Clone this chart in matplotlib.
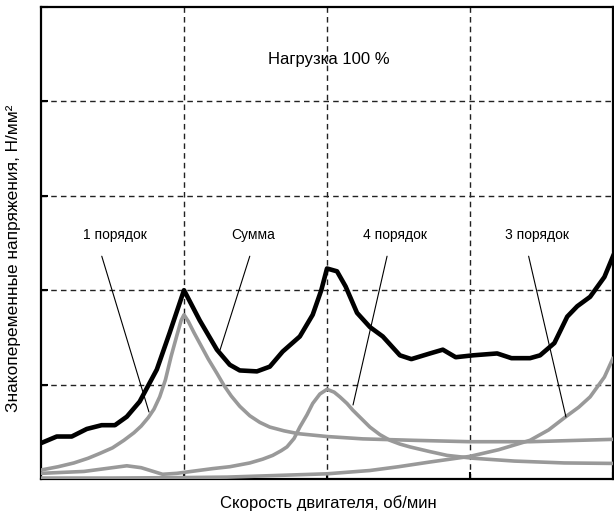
import matplotlib
matplotlib.use("Agg")
import matplotlib.pyplot as plt

plt.rcParams['font.family'] = ['Liberation Sans Narrow', 'Liberation Sans', 'DejaVu Sans']

# ---- data ----
sum_x = [0.0, 0.11, 0.215, 0.32, 0.424, 0.517, 0.6, 0.69, 0.81, 0.9, 1.0, 1.11, 1.23, 1.32,
         1.39, 1.51, 1.6, 1.69, 1.81, 1.9, 1.96, 2.0, 2.07, 2.13, 2.21, 2.3, 2.39, 2.51, 2.59,
         2.72, 2.81, 2.9, 3.02, 3.19, 3.29, 3.42, 3.49, 3.59, 3.68, 3.75, 3.84, 3.94, 4.0]
sum_y = [0.38, 0.45, 0.45, 0.53, 0.57, 0.57, 0.66, 0.82, 1.16, 1.55, 2.0, 1.68, 1.37, 1.21,
         1.15, 1.14, 1.19, 1.35, 1.51, 1.74, 2.0, 2.23, 2.2, 2.04, 1.76, 1.61, 1.51, 1.31, 1.27,
         1.33, 1.37, 1.29, 1.31, 1.33, 1.28, 1.28, 1.31, 1.44, 1.72, 1.83, 1.93, 2.14, 2.36]

o1_x = [0.0, 0.12, 0.23, 0.33, 0.41, 0.5, 0.58, 0.65, 0.7, 0.75, 0.79, 0.83, 0.87, 0.91, 0.95,
        0.98, 1.0, 1.03, 1.07, 1.12, 1.17, 1.23, 1.28, 1.33, 1.39, 1.46, 1.53, 1.6, 1.7, 1.8,
        1.9, 2.0, 2.25, 2.6, 3.0, 3.42, 4.0]
o1_y = [0.095, 0.13, 0.17, 0.22, 0.27, 0.33, 0.41, 0.49, 0.56, 0.65, 0.74, 0.87, 1.05, 1.30,
        1.52, 1.68, 1.74, 1.67, 1.55, 1.41, 1.27, 1.12, 0.99, 0.88, 0.77, 0.67, 0.60, 0.55,
        0.51, 0.48, 0.465, 0.45, 0.425, 0.41, 0.395, 0.395, 0.42]

o4_x = [0.0, 0.3, 0.5, 0.6, 0.7, 0.85, 0.95, 1.0, 1.2, 1.32, 1.46, 1.55, 1.62, 1.68, 1.72,
        1.77, 1.81, 1.86, 1.9, 1.95, 2.0, 2.05, 2.09, 2.14, 2.18, 2.24, 2.3, 2.37, 2.44, 2.51,
        2.58, 2.72, 2.84, 3.02, 3.31, 3.66, 4.0]
o4_y = [0.06, 0.08, 0.12, 0.14, 0.12, 0.05, 0.06, 0.07, 0.11, 0.13, 0.17, 0.21, 0.25, 0.30,
        0.34, 0.43, 0.55, 0.68, 0.80, 0.90, 0.95, 0.92, 0.87, 0.80, 0.73, 0.64, 0.55, 0.47,
        0.41, 0.37, 0.34, 0.29, 0.25, 0.22, 0.19, 0.17, 0.165]

o3_x = [0.0, 0.5, 1.0, 1.3, 1.6, 2.0, 2.3, 2.5, 2.72, 3.0, 3.2, 3.42, 3.55, 3.67, 3.76, 3.84,
        3.94, 4.0]
o3_y = [0.01, 0.01, 0.015, 0.02, 0.035, 0.055, 0.09, 0.13, 0.18, 0.24, 0.31, 0.41, 0.52, 0.66,
        0.76, 0.87, 1.08, 1.28]

title_text = "Нагрузка 100 %"
xlabel_text = "Скорость двигателя, об/мин"
ylabel_text = "Знакопеременные напряжения, Н/мм²"
ann_labels = ["1 порядок", "Сумма", "4 порядок", "3 порядок"]
ann_text_x = [0.516, 1.487, 2.479, 3.472]
ann_line_start_x = [0.425, 1.46, 2.42, 3.41]
ann_target = [(0.755, 0.71), (1.252, 1.367), (2.182, 0.784), (3.671, 0.657)]

# ---- figure ----
W, H = 614, 516
fig = plt.figure(figsize=(W / 100, H / 100), dpi=100)
ax = fig.add_axes([41 / W, (H - 479) / H, 572 / W, 472 / H])

gray = '#999999'
ax.plot(o3_x, o3_y, color=gray, lw=2.6, solid_capstyle='round', solid_joinstyle='round', zorder=3)
ax.plot(o4_x, o4_y, color=gray, lw=2.6, solid_capstyle='round', solid_joinstyle='round', zorder=3)
ax.plot(o1_x, o1_y, color=gray, lw=2.6, solid_capstyle='round', solid_joinstyle='round', zorder=3)
ax.plot(sum_x, sum_y, color='black', lw=3.3, solid_joinstyle='round', zorder=4)

ax.set_xlim(0, 4)
ax.set_ylim(0, 5)
ax.set_xticks([1, 2, 3, 4])
ax.set_yticks([1, 2, 3, 4, 5])
ax.tick_params(direction='in', length=5, width=1.5, labelleft=False, labelbottom=False,
               color='black')
for v in [1, 2, 3]:
    ax.axvline(v, color='#222222', lw=1.0, dashes=(4, 3), zorder=1)
for v in [1, 2, 3, 4]:
    ax.axhline(v, color='#222222', lw=1.0, dashes=(4, 3), zorder=1)
for s in ax.spines.values():
    s.set_linewidth(1.6)

ax.text(2.011, 4.444, title_text, ha='center', va='center', fontsize=12)

for lab, tx, lx, tgt in zip(ann_labels, ann_text_x, ann_line_start_x, ann_target):
    ax.text(tx, 2.585, lab, ha='center', va='center', fontsize=10)
    ax.annotate('', xy=tgt, xytext=(lx, 2.36),
                arrowprops=dict(arrowstyle='-', lw=0.8, color='black',
                                shrinkA=0, shrinkB=0), zorder=5)

fig.text(328 / W, 1 - 503 / H, xlabel_text, ha='center', va='center', fontsize=12)
fig.text(14 / W, 1 - 258 / H, ylabel_text, ha='center', va='center', rotation=90,
         fontsize=12.4)

fig.savefig('out.png', dpi=100)
